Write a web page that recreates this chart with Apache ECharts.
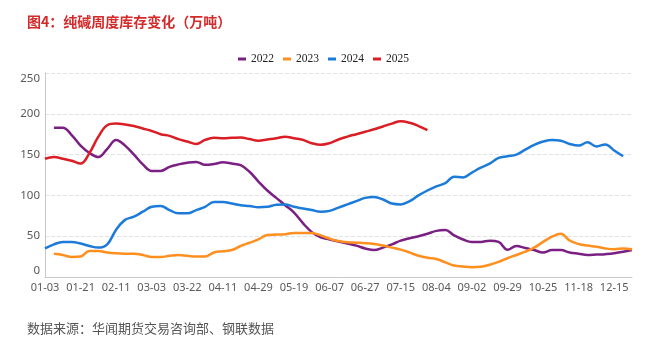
<!DOCTYPE html>
<html>
<head>
<meta charset="utf-8">
<script src="https://cdn.jsdelivr.net/npm/echarts@6/dist/echarts.min.js"></script>
<style>
  html, body { margin: 0; padding: 0; background: #fff; }
  #chart { width: 645px; height: 352px; }
</style>
</head>
<body>
<div id="chart"></div>
<script>
// 周度日期（每 4 个显示一个标签）
const dates = [
  '01-03', '01-07', '01-12', '01-16',
  '01-21', '01-26', '01-31', '02-06',
  '02-11', '02-16', '02-21', '02-26',
  '03-03', '03-08', '03-12', '03-17',
  '03-22', '03-27', '04-01', '04-06',
  '04-11', '04-15', '04-20', '04-24',
  '04-29', '05-04', '05-09', '05-14',
  '05-19', '05-24', '05-28', '06-02',
  '06-07', '06-12', '06-17', '06-22',
  '06-27', '07-01', '07-06', '07-10',
  '07-15', '07-20', '07-25', '07-30',
  '08-04', '08-11', '08-18', '08-25',
  '09-02', '09-08', '09-15', '09-22',
  '09-29', '10-06', '10-12', '10-19',
  '10-25', '10-31', '11-06', '11-12',
  '11-18', '11-25', '12-02', '12-08',
  '12-15', '12-22', '12-29'
];

const inv2022 = [null, 183, 183, 174, 161, 152, 147, 157, 168, 161, 150, 138, 130, 130, 135, 138, 140, 141, 137.5, 138.5,
  140.5, 139, 137, 129, 117, 106, 97, 88, 79, 66, 55, 48.5, 46, 43.5, 41, 38.5, 35, 33, 36, 40,
  44.5, 47.5, 50, 53, 56.5, 57.5, 51, 46, 43, 43, 44.5, 43, 33.5, 38, 35.5, 33, 30, 33, 33, 30,
  28.5, 27, 27.5, 28, 29, 31, 33];
const inv2023 = [null, 28.5, 27, 24.5, 25, 32, 32, 30, 29, 28.6, 28.6, 27, 24.5, 24.5, 26, 27, 26, 25, 25, 30,
  31.5, 33, 38, 42, 46, 51.5, 52, 52.5, 54, 54, 54, 51, 47, 44, 42.5, 42, 41.5, 40.5, 38.5, 36,
  33.5, 30, 26, 23.5, 22, 18, 14, 13, 12, 12.5, 15, 18.5, 23, 27, 31, 36, 43, 49.5, 53, 44.5,
  40.5, 38.5, 37, 35, 34, 35, 34];
const inv2024 = [35, 40, 43, 43, 41, 38, 36, 40, 58, 70, 74, 80, 86, 87, 82, 78, 78, 82, 86, 92,
  92, 90, 88, 87, 85.5, 86, 88.5, 89, 86, 84, 82, 80, 81, 85, 89, 93, 97, 98, 95, 90,
  89, 93, 100, 106, 111, 115, 123, 122, 128, 134, 139, 146, 148, 150, 156, 162, 166, 168, 167, 163,
  161, 165, 160, 162.5, 155, 148];
const inv2025 = [145, 147, 145, 142.5, 139, 152, 172, 186, 188, 187, 185, 182, 179, 175, 173, 169, 166, 163, 168, 170.5,
  170, 170.5, 171, 169, 167, 168.5, 170, 172, 170, 168, 164, 162, 164, 168.5, 172, 175, 178, 181, 184.5, 188,
  191, 189, 185, 180];

const years = ['2022', '2023', '2024', '2025'];
const colors = ['#7B2083', '#FF8F1F', '#1C7AD8', '#D91E25'];
const seriesData = [inv2022, inv2023, inv2024, inv2025];

const chart = echarts.init(document.getElementById('chart'), null, { renderer: 'canvas' });

let configOption = {
    animation: false,
    title: {
        text: '图4：纯碱周度库存变化（万吨）',
        left: 22,
        top: 10,
        textStyle: {
            color: '#D42A2A',
            fontSize: 14,
            fontWeight: 'bold',
            fontFamily: 'Noto Sans CJK SC'
        }
    },
    legend: {
        left: 233,
        top: 48,
        icon: 'rect',
        itemWidth: 8,
        itemHeight: 3,
        itemGap: 9,
        textStyle: { color: '#222', fontSize: 11.5, fontFamily: 'Liberation Serif' },
        data: years
    },
    grid: {
        left: 45,
        right: 13,
        top: 73,
        bottom: 75,
        containLabel: false,
        outerBoundsMode: 'none'
    },
    xAxis: {
        type: 'category',
        boundaryGap: false,
        data: dates,
        axisLine: { lineStyle: { color: '#c8c8c8' } },
        axisTick: { show: false },
        axisLabel: {
            interval: 3,
            color: '#595959',
            fontSize: 11,
            margin: 5,
            fontFamily: 'Noto Sans'
        }
    },
    yAxis: {
        type: 'value',
        min: 0,
        max: 250,
        interval: 50,
        axisLine: { show: true, lineStyle: { color: '#c8c8c8' } },
        axisTick: { show: false },
        splitLine: { lineStyle: { color: '#e2e2e2', type: 'dashed' } },
        axisLabel: {
            color: '#595959',
            fontSize: 11.5,
            margin: 5,
            fontFamily: 'Noto Sans',
            verticalAlignMinLabel: 'bottom',
            verticalAlignMaxLabel: 'top'
        }
    },
    graphic: [{
        type: 'text',
        left: 27,
        top: 322,
        style: {
            text: '数据来源：华闻期货交易咨询部、钢联数据',
            fill: '#555',
            fontSize: 13,
            fontFamily: 'Noto Sans CJK SC'
        }
    }],
    series: years.map((y, i) => ({
        name: y,
        type: 'line',
        data: seriesData[i],
        smooth: 0.4,
        showSymbol: false,
        color: colors[i],
        lineStyle: { width: 2.5, color: colors[i] }
    }))
};

chart.setOption(configOption);
</script>
</body>
</html>
